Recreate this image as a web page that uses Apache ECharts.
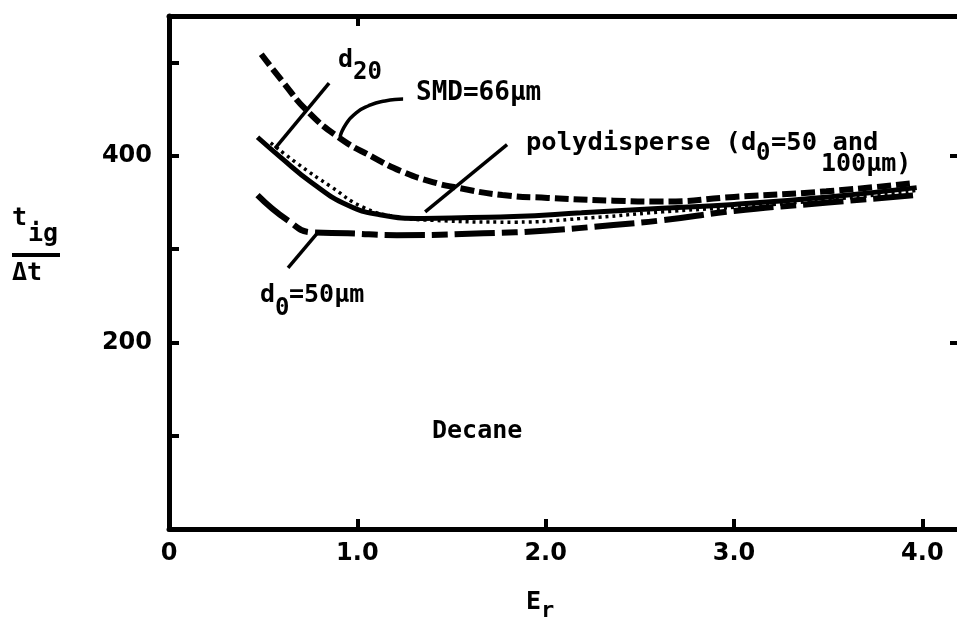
<!DOCTYPE html>
<html>
<head>
<meta charset="utf-8">
<script src="https://cdn.jsdelivr.net/npm/echarts@6/dist/echarts.min.js"></script>
<style>html,body{margin:0;padding:0;background:#fff;}#c{width:957px;height:625px;}</style>
</head>
<body>
<div id="c"></div>
<script>
// ---- data ----
var xTickLabels = ['0', '1.0', '2.0', '3.0', '4.0'];
var yTickLabels = ['200', '400'];

var smdX = [0.49, 0.61, 0.73, 0.90, 1.08, 1.24, 1.40, 1.53, 1.77, 2.01, 2.36, 2.62, 3.00, 3.49, 3.96];
var smdY = [509, 478, 449, 420, 399, 383, 372, 366, 358, 355, 352, 351, 356, 362, 371];

var polyX = [0.47, 0.59, 0.76, 0.95, 1.12, 1.35, 1.60, 1.83, 2.19, 2.62, 3.00, 3.50, 3.97];
var polyY = [420, 399, 371, 347, 337, 333, 334, 335, 339, 344, 348, 356, 366];

var d20X = [0.54, 0.68, 0.86, 1.03, 1.20, 1.40, 1.83, 2.20, 2.62, 3.00, 3.50, 3.97];
var d20Y = [414, 392, 367, 345, 335, 331, 329, 333, 340, 345, 353, 363];

var d50X = [0.47, 0.63, 0.76, 0.95, 1.21, 1.67, 2.01, 2.36, 2.62, 3.00, 3.50, 3.97];
var d50Y = [358, 331, 318, 317, 315, 317, 320, 326, 331, 341, 350, 358];

// annotation pointer lines (data coordinates)
var ptrD20 = [[0.850, 478], [0.563, 408]];
var ptrSMD = [[1.243, 461], [1.147, 458.9], [1.057, 453.5], [0.988, 445], [0.940, 434.2], [0.908, 420.3]];
var ptrPoly = [[1.795, 412], [1.360, 340]];
var ptrD50 = [[0.791, 318], [0.632, 280]];

function zip(xs, ys) { return xs.map(function (x, i) { return [x, ys[i]]; }); }

var chart = echarts.init(document.getElementById('c'));
var lblFont = 'DejaVu Sans Mono';
var axisFont = 'DejaVu Sans';

function ptrSeries(d, smooth) {
  return { type: 'line', data: d, smooth: smooth || false, showSymbol: false, silent: true,
    lineStyle: { color: '#000', width: 3.5 }, z: 3, xAxisIndex: 0, yAxisIndex: 0 };
}

var option = {
  animation: false,
  backgroundColor: '#fff',
  grid: { left: 169, right: -3, top: 16, bottom: 96, outerBoundsMode: 'none', containLabel: false },
  xAxis: [{
    type: 'value', min: 0, max: 4.2, interval: 1, position: 'bottom',
    axisLine: { onZero: false, lineStyle: { color: '#000', width: 5 } },
    axisTick: { inside: true, length: 10, lineStyle: { color: '#000', width: 4 } },
    splitLine: { show: false },
    axisLabel: { margin: 13, color: '#000', fontFamily: axisFont, fontWeight: 'bold', fontSize: 24,
      formatter: function (v) { var i = xTickLabels.indexOf(v === 0 ? '0' : v.toFixed(1)); return (Math.abs(v - Math.round(v)) < 1e-9 && i >= 0) ? xTickLabels[i] : ''; } }
  }, {
    type: 'value', min: 0, max: 4.2, interval: 1, position: 'top',
    axisLine: { onZero: false, lineStyle: { color: '#000', width: 5 } },
    axisTick: { inside: true, length: 10, customValues: [1], lineStyle: { color: '#000', width: 4 } },
    splitLine: { show: false }, axisLabel: { show: false }
  }],
  yAxis: [{
    type: 'value', min: 0, max: 550, interval: 100, position: 'left',
    axisLine: { onZero: false, lineStyle: { color: '#000', width: 5 } },
    axisTick: { inside: true, length: 10, lineStyle: { color: '#000', width: 4 } },
    splitLine: { show: false },
    axisLabel: { margin: 17, color: '#000', fontFamily: axisFont, fontWeight: 'bold', fontSize: 24,
      formatter: function (v) { return yTickLabels.indexOf(String(v)) >= 0 ? String(v) : ''; } }
  }, {
    type: 'value', min: 0, max: 550, interval: 100, position: 'right',
    axisLine: { onZero: false, lineStyle: { color: '#000', width: 5 } },
    axisTick: { inside: true, length: 10, customValues: [200, 400], lineStyle: { color: '#000', width: 4 } },
    splitLine: { show: false }, axisLabel: { show: false }
  }],
  series: [
    { name: 'SMD=66μm', type: 'line', data: zip(smdX, smdY), smooth: true, showSymbol: false,
      lineStyle: { color: '#000', width: 6, type: [14, 5], cap: 'butt' }, z: 2 },
    { name: 'polydisperse', type: 'line', data: zip(polyX, polyY), smooth: true, showSymbol: false,
      lineStyle: { color: '#000', width: 5 }, z: 2 },
    { name: 'd20', type: 'line', data: zip(d20X, d20Y), smooth: true, showSymbol: false,
      lineStyle: { color: '#000', width: 3.5, type: [3, 4] }, z: 2 },
    { name: 'd0=50μm', type: 'line', data: zip(d50X, d50Y), smooth: true, showSymbol: false,
      lineStyle: { color: '#000', width: 6, type: [40, 7, 16, 7], cap: 'butt' }, z: 2 },
    ptrSeries(ptrD20), ptrSeries(ptrSMD, 0.6), ptrSeries(ptrPoly), ptrSeries(ptrD50)
  ],
  graphic: [
    // y-axis title  t_ig / Δt
    { type: 'text', left: 12, top: 206, style: { text: 't', font: 'bold 25px ' + lblFont, fill: '#000' } },
    { type: 'text', left: 28, top: 222, style: { text: 'ig', font: 'bold 25px ' + lblFont, fill: '#000' } },
    { type: 'rect', shape: { x: 12, y: 253, width: 48, height: 4 }, style: { fill: '#000' } },
    { type: 'text', left: 12, top: 261, style: { text: 'Δt', font: 'bold 25px ' + lblFont, fill: '#000' } },
    // x-axis title E_r
    { type: 'text', left: 526, top: 590, style: { text: 'E', font: 'bold 25px ' + lblFont, fill: '#000' } },
    { type: 'text', left: 541, top: 600, style: { text: 'r', font: 'bold 22px ' + lblFont, fill: '#000' } },
    // annotations
    { type: 'text', left: 338, top: 48, style: { text: 'd', font: 'bold 25px ' + lblFont, fill: '#000' } },
    { type: 'text', left: 353, top: 61, style: { text: '20', font: 'bold 24px ' + lblFont, fill: '#000' } },
    { type: 'text', left: 416, top: 80, style: { text: 'SMD=66μm', font: 'bold 26px ' + lblFont, fill: '#000' } },
    { type: 'text', left: 526, top: 130, style: { text: 'polydisperse (d', font: 'bold 25.5px ' + lblFont, fill: '#000' } },
    { type: 'text', left: 756, top: 142, style: { text: '0', font: 'bold 24px ' + lblFont, fill: '#000' } },
    { type: 'text', left: 771, top: 130, style: { text: '=50 and', font: 'bold 25.5px ' + lblFont, fill: '#000' } },
    { type: 'text', left: 821, top: 152, style: { text: '100μm)', font: 'bold 25px ' + lblFont, fill: '#000' } },
    { type: 'text', left: 432, top: 419, style: { text: 'Decane', font: 'bold 25px ' + lblFont, fill: '#000' } },
    { type: 'text', left: 260, top: 283, style: { text: 'd', font: 'bold 25px ' + lblFont, fill: '#000' } },
    { type: 'text', left: 275, top: 297, style: { text: '0', font: 'bold 24px ' + lblFont, fill: '#000' } },
    { type: 'text', left: 289, top: 283, style: { text: '=50μm', font: 'bold 25px ' + lblFont, fill: '#000' } }
  ]
};
chart.setOption(option);
</script>
</body>
</html>
